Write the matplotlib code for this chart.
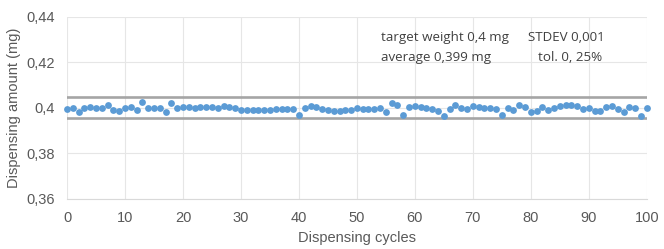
import matplotlib
matplotlib.use("Agg")
import matplotlib.pyplot as plt
import numpy as np

plt.rcParams['font.family'] = ['Liberation Sans', 'DejaVu Sans']

# dispensed amount per cycle (mg)
amounts = [
    0.3994, 0.4001, 0.3982, 0.3998, 0.4003, 0.3999, 0.3999, 0.4011, 0.3990, 0.3986,
    0.3999, 0.4005, 0.3990, 0.4027, 0.3999, 0.4001, 0.4000, 0.3982, 0.4022, 0.4000,
    0.4003, 0.4004, 0.4001, 0.4004, 0.4003, 0.4004, 0.4000, 0.4008, 0.4004, 0.4000,
    0.3991, 0.3991, 0.3991, 0.3992, 0.3991, 0.3992, 0.3994, 0.3995, 0.3996, 0.3994,
    0.3969, 0.3999, 0.4008, 0.4005, 0.3995, 0.3991, 0.3987, 0.3987, 0.3990, 0.3991,
    0.3999, 0.3994, 0.3997, 0.3996, 0.3999, 0.3982, 0.4020, 0.4013, 0.3971, 0.4005,
    0.4008, 0.4005, 0.3999, 0.3994, 0.3987, 0.3963, 0.3994, 0.4013, 0.4000, 0.3995,
    0.4009, 0.4005, 0.4001, 0.4000, 0.3995, 0.3971, 0.4000, 0.3991, 0.4013, 0.4005,
    0.3984, 0.3987, 0.4005, 0.3991, 0.4000, 0.4008, 0.4011, 0.4015, 0.4008, 0.3994,
    0.3999, 0.3987, 0.3987, 0.4003, 0.4008, 0.3994, 0.3982, 0.4005, 0.4000, 0.3963,
    0.3999,
]
cycles = list(range(len(amounts)))

upper_limit = 0.4046
lower_limit = 0.3955

y_ticks = [0.36, 0.38, 0.40, 0.42, 0.44]
y_labels = ['0,36', '0,38', '0,4', '0,42', '0,44']
x_ticks = [0, 10, 20, 30, 40, 50, 60, 70, 80, 90, 100]

text_grey = '#595959'

fig = plt.figure(figsize=(6.64, 2.49), dpi=100)
ax = fig.add_axes([0.101, 0.201, 0.873, 0.731])

ax.axhline(upper_limit, color='#a5a5a5', lw=1.9, zorder=2)
ax.axhline(lower_limit, color='#a5a5a5', lw=1.9, zorder=2)
ax.scatter(cycles, amounts, s=24, color='#5b9bd5', zorder=3, linewidths=0,
           clip_on=False)

ax.set_xlim(0, 100)
ax.set_ylim(0.36, 0.44)
ax.set_xticks(x_ticks)
ax.set_yticks(y_ticks)
ax.set_yticklabels(y_labels)
ax.tick_params(length=0, labelsize=10.5, colors=text_grey)
ax.tick_params(axis='x', pad=9)
ax.tick_params(axis='y', pad=9)
ax.grid(True, color='#e6e6e6', lw=0.8)
ax.set_axisbelow(True)
for side in ['top', 'right', 'left']:
    ax.spines[side].set_visible(False)
ax.spines['bottom'].set_color('#d9d9d9')

ax.set_xlabel('Dispensing cycles', fontsize=10.5, color=text_grey, labelpad=4)
ax.set_ylabel('Dispensing amount (mg)', fontsize=10.5, color=text_grey, labelpad=4)

# text box with the run summary
note_font = ['Open Sans', 'DejaVu Sans']
notes = [
    (0.542, 0.885, 'target weight 0,4 mg'),
    (0.795, 0.885, 'STDEV 0,001'),
    (0.542, 0.775, 'average 0,399 mg'),
    (0.812, 0.775, 'tol. 0, 25%'),
]
for nx, ny, s in notes:
    ax.text(nx, ny, s, transform=ax.transAxes, fontsize=9.6, color='#404040',
            va='center', family=note_font)

fig.savefig('out.png', dpi=100)
